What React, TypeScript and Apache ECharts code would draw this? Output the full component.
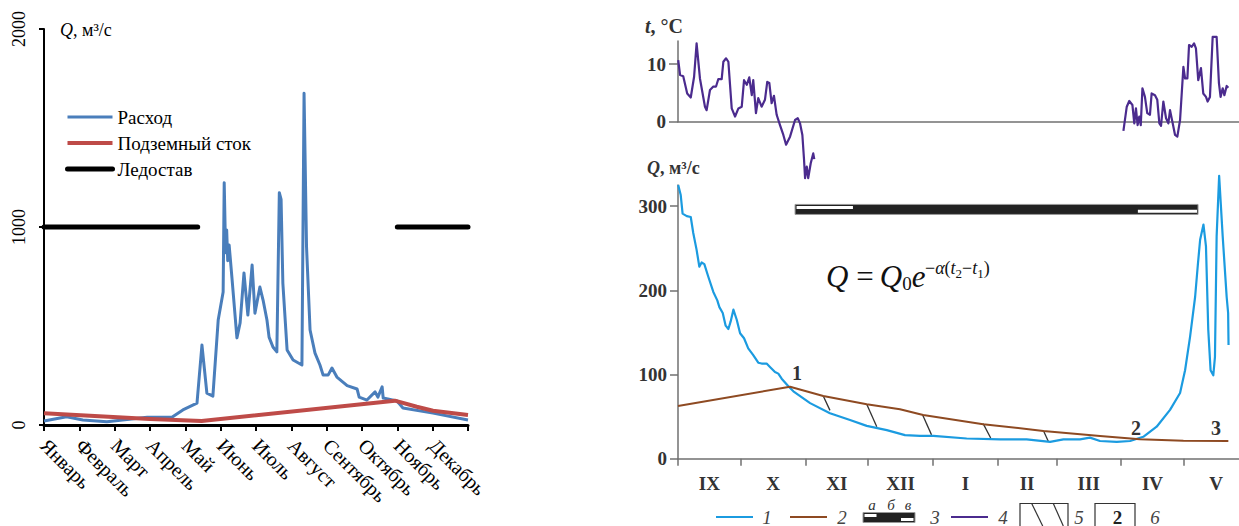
import React, { useEffect, useRef } from 'react';
import * as echarts from 'echarts';

const SERIF = "'Liberation Serif', 'Times New Roman', Times, serif";

// ---------- Left chart data (x in months from 1 January, y in m3/s) ----------
const MONTHS = ['Январь', 'Февраль', 'Март', 'Апрель', 'Май', 'Июнь', 'Июль', 'Август', 'Сентябрь', 'Октябрь', 'Ноябрь', 'Декабрь'];
const FLOW_LEFT: number[][] = [
  [0, 20], [0.64, 42], [1.1, 25], [1.78, 17], [2.92, 39], [3.62, 39], [3.93, 76], [4.33, 110], [4.47, 404], [4.61, 161],
  [4.78, 146], [4.93, 530], [5.07, 672], [5.1, 1224], [5.14, 870], [5.17, 985], [5.2, 830], [5.24, 909], [5.32, 742],
  [5.46, 440], [5.55, 515], [5.66, 768], [5.77, 555], [5.89, 808], [5.97, 565], [6.11, 697], [6.2, 631], [6.31, 530],
  [6.37, 444], [6.48, 394], [6.59, 369], [6.66, 1173], [6.71, 1140], [6.76, 717], [6.88, 379], [7.05, 328], [7.3, 303],
  [7.36, 1676], [7.43, 900], [7.53, 480], [7.67, 363], [7.81, 303], [7.9, 252], [8.04, 252], [8.15, 288], [8.29, 242],
  [8.58, 199], [8.86, 182], [8.92, 141], [9.14, 126], [9.37, 167], [9.45, 141], [9.57, 193], [9.6, 136], [9.99, 121],
  [10.16, 86], [11.01, 60], [12, 25],
];
const GROUND_LEFT: number[][] = [[0, 59], [3, 30], [4.46, 20], [9.93, 123], [10.55, 92], [11.01, 72], [12, 50]];
const ICE_LEFT_A: number[][] = [[0, 1000], [4.35, 1000]];
const ICE_LEFT_B: number[][] = [[10.0, 1000], [12, 1000]];
const LEFT_Y_TICKS = [0, 1000, 2000];

// ---------- Right chart data (x in days from 1 September) ----------
const ROMAN = ['IX', 'X', 'XI', 'XII', 'I', 'II', 'III', 'IV', 'V'];
const MONTH_START_DAYS = [0, 30, 61, 91, 122, 153, 181, 212, 242];
const MONTH_MID_DAYS = [15, 45.5, 76, 106.5, 137.5, 167, 196.5, 227, 257.5];
const T_TICKS = [0, 10];
const Q_TICKS = [0, 100, 200, 300];

const TEMP_AUTUMN: number[][] = [
  [0.1, 10.7], [1.0, 8.1], [2.5, 7.9], [4.4, 4.9], [6.1, 4.2], [7.7, 7.8], [8.9, 13.6], [10.5, 7.5], [12.9, 2.6], [13.7, 2.0],
  [15.3, 5.5], [16.9, 6.1], [18.2, 6.1], [19.3, 7.4], [20.9, 7.4], [21.7, 10.4], [23.0, 11.0], [24.1, 10.4], [25.7, 2.3],
  [27.3, 0.9], [28.9, 2.3], [30.5, 2.6], [31.6, 7.2], [32.9, 6.4], [34.1, 7.7], [35.3, 4.6], [36.0, 7.2], [37.3, 1.5],
  [38.4, 4.1], [40.0, 2.6], [41.6, 3.8], [42.7, 6.9], [43.7, 6.7], [44.8, 3.2], [45.9, 4.5], [47.2, 1.2], [48.8, -0.6],
  [50.4, -2.3], [51.7, -4.0], [53.6, -2.6], [56.0, 0.3], [57.3, 0.6], [58.4, -0.3], [59.5, -2.3], [60.3, -6.6], [60.8, -9.8],
  [61.6, -7.8], [62.3, -9.8], [63.5, -7.2], [64.7, -5.5], [65.2, -6.5],
];
const TEMP_SPRING: number[][] = [
  [213.1, -1.6], [214.7, 2.6], [215.9, 3.6], [217.4, 2.9], [218.3, -0.3], [219.1, 2.3], [219.9, -0.6], [220.7, 0.9],
  [221.4, -0.6], [222.2, 5.8], [223.4, 4.3], [224.5, 1.5], [225.8, 1.2], [226.6, 4.9], [228.2, 4.6], [229.3, 3.8],
  [230.3, -0.3], [231.1, -0.7], [232.2, 3.5], [233.5, 0.6], [234.6, -0.3], [235.4, 2.0], [236.7, -0.3], [237.8, -2.3],
  [238.9, -2.6], [240.2, 0.3], [241.8, 9.5], [242.6, 7.5], [243.7, 7.5], [244.5, 13.3], [245.8, 13.0], [246.9, 13.6],
  [247.8, 12.7], [248.9, 7.2], [250.2, 9.3], [251.3, 4.9], [252.6, 4.3], [253.4, 3.5], [254.5, 4.3], [255.8, 14.7],
  [257.7, 14.7], [258.8, 6.7], [259.6, 4.3], [260.6, 5.8], [261.4, 4.6], [262.5, 6.2], [263.3, 5.9],
];
const FLOW_RIGHT: number[][] = [
  [0.1, 325], [1.3, 313], [2.2, 291], [4.2, 288], [6.1, 287], [7.3, 268], [8.9, 248], [10.2, 228], [11.3, 233], [12.6, 231],
  [14.5, 216], [16.9, 198], [18.8, 188], [19.8, 180], [21.4, 173], [22.8, 158], [24.1, 154], [25.2, 163], [26.5, 177],
  [28.1, 165], [29.7, 149], [31.6, 143], [33.6, 131], [36.0, 123], [38.4, 114], [40.0, 113], [42.4, 113], [44.0, 109],
  [46.4, 103], [48.0, 101], [49.6, 95], [52.8, 86], [55.2, 80], [63.2, 66], [72.7, 54], [82.3, 46], [90.3, 39], [99.9, 34],
  [108.6, 28], [115.8, 27], [122.2, 27], [138.1, 24], [154.1, 23], [166.8, 23], [178.0, 20], [184.4, 23], [192.3, 23],
  [197.1, 25], [201.9, 21], [209.9, 20], [216.3, 21], [222.6, 26], [229.0, 38], [235.4, 58], [240.2, 78], [242.6, 105],
  [245.0, 145], [247.4, 192], [248.7, 230], [249.8, 260], [251.4, 278], [252.6, 252], [253.7, 153], [254.8, 105],
  [256.1, 99], [256.9, 121], [257.7, 264], [258.9, 336], [260.6, 264], [262.5, 192], [263.2, 173], [263.4, 135],
];
const GROUND_RIGHT: number[][] = [
  [0, 62.6], [53.6, 85.5], [69.5, 74.5], [90.3, 64.6], [106.2, 58.7], [117.3, 52], [146, 41], [174.8, 33], [201.9, 27],
  [221, 23], [241.8, 21.4], [263.3, 21],
];
const HATCHES: number[][][] = [
  [[69.5, 74.5], [72.7, 57.4]],
  [[90.3, 64.6], [95.1, 38.0]],
  [[117.0, 52.1], [121.3, 28.3]],
  [[146.0, 41.6], [149.6, 24.6]],
  [[174.8, 33.4], [177.2, 20.3]],
];
// ice regime: [start day, end day, phase] (b = ice cover, a = autumn ice, c = spring ice)
const ICE_PHASES: (number | string)[][] = [[56, 248.8, 'b'], [56, 83.7, 'a'], [219.3, 248.3, 'c']];
const ICE_LEVEL = 296;
// characteristic points labels: [text, day, Q]
const POINT_LABELS: (number | string)[][] = [['1', 56.9, 101.8], ['2', 219.1, 36.5], ['3', 257.4, 36.5]];

const BLUE_L = '#4a7ebb';
const RED_L = '#be4b48';
const BLUE_R = '#1b9be0';
const BROWN = '#8e4a22';
const PURPLE = '#4b2b8e';
const AXIS_R = '#707070';

function buildOption(): any {
  const boldLabel = { fontFamily: SERIF, fontWeight: 'bold', fontSize: 19, color: '#333' };
  const gx = (d: number) => 678 + (d * 561) / 268.4;
  const gy = (q: number) => 458.7 - q * 0.842;
  const legendNum = (text: string, x: number) => ({
    type: 'text', x, y: 517,
    style: { text, fill: '#444', fontFamily: SERIF, fontStyle: 'italic', fontSize: 19, align: 'center', verticalAlign: 'middle' },
  });
  const smallLetter = (text: string, x: number) => ({
    type: 'text', x, y: 505,
    style: { text, fill: '#333', fontFamily: SERIF, fontStyle: 'italic', fontSize: 15, align: 'center', verticalAlign: 'middle' },
  });
  return {
    animation: false,
    backgroundColor: '#fff',
    legend: {
      data: ['Расход', 'Подземный сток', 'Ледостав'],
      orient: 'vertical',
      left: 60,
      top: 102,
      padding: 5,
      itemWidth: 45,
      itemHeight: 1,
      itemGap: 6,
      lineStyle: { width: 'inherit' },
      textStyle: { fontFamily: SERIF, fontSize: 19, color: '#000', lineHeight: 20 },
    },
    grid: [
      { left: 44, top: 29, width: 424, height: 396 },
      { left: 678, top: 41, width: 561, height: 80.7 },
      { left: 678, top: 185, width: 561, height: 273.7 },
    ],
    xAxis: [
      {
        type: 'value', gridIndex: 0, min: 0, max: 12, interval: 1,
        axisLine: { lineStyle: { color: '#000', width: 3 } },
        axisTick: { show: true, length: 6, lineStyle: { color: '#000', width: 2 } },
        axisLabel: {
          rotate: -45, margin: 17, fontFamily: SERIF, fontSize: 20, color: '#000',
          formatter: (v: number) => MONTHS[Math.round(v)] ?? '',
        },
        splitLine: { show: false },
      },
      {
        type: 'value', gridIndex: 1, min: 0, max: 268.4,
        axisLine: { lineStyle: { color: AXIS_R, width: 1.5 } },
        axisTick: { show: false }, axisLabel: { show: false }, splitLine: { show: false },
      },
      {
        type: 'value', gridIndex: 2, min: 0, max: 268.4,
        axisLine: { lineStyle: { color: AXIS_R, width: 1.5 } },
        axisTick: { show: true, length: 7, customValues: MONTH_START_DAYS, lineStyle: { color: AXIS_R, width: 1.5 } },
        axisLabel: {
          ...boldLabel, margin: 15, customValues: MONTH_MID_DAYS,
          formatter: (v: number) => ROMAN[MONTH_MID_DAYS.indexOf(v)] ?? '',
        },
        splitLine: { show: false },
      },
    ],
    yAxis: [
      {
        type: 'value', gridIndex: 0, min: 0, max: 2000, interval: 1000,
        axisLine: { show: true, lineStyle: { color: '#000', width: 2 } },
        axisTick: { show: true, length: 5, lineStyle: { color: '#000', width: 2 } },
        axisLabel: {
          rotate: 90, margin: 16, fontFamily: SERIF, fontSize: 18, color: '#000', customValues: LEFT_Y_TICKS,
          formatter: (v: number) => String(v),
        },
        splitLine: { show: false },
      },
      {
        type: 'value', gridIndex: 1, min: 0, max: 14,
        axisLine: { show: true, lineStyle: { color: AXIS_R, width: 1.5 } },
        axisTick: { show: true, length: 9, customValues: T_TICKS, lineStyle: { color: AXIS_R, width: 1.5 } },
        axisLabel: { ...boldLabel, margin: 12, customValues: T_TICKS },
        splitLine: { show: false },
      },
      {
        type: 'value', gridIndex: 2, min: 0, max: 325,
        axisLine: { show: true, lineStyle: { color: AXIS_R, width: 1.5 } },
        axisTick: { show: true, length: 8, customValues: Q_TICKS, lineStyle: { color: AXIS_R, width: 1.5 } },
        axisLabel: { ...boldLabel, margin: 11, customValues: Q_TICKS },
        splitLine: { show: false },
      },
    ],
    series: [
      {
        name: 'Ледостав', type: 'line', xAxisIndex: 0, yAxisIndex: 0, data: ICE_LEFT_A, symbol: 'none',
        color: '#000', lineStyle: { color: '#000', width: 5, cap: 'round' }, z: 3,
      },
      {
        name: 'Ледостав', type: 'line', xAxisIndex: 0, yAxisIndex: 0, data: ICE_LEFT_B, symbol: 'none',
        color: '#000', lineStyle: { color: '#000', width: 5, cap: 'round' }, z: 3,
      },
      {
        name: 'Расход', type: 'line', xAxisIndex: 0, yAxisIndex: 0, data: FLOW_LEFT, symbol: 'none',
        color: BLUE_L, lineStyle: { color: BLUE_L, width: 3, join: 'round' }, z: 4,
      },
      {
        name: 'Подземный сток', type: 'line', xAxisIndex: 0, yAxisIndex: 0, data: GROUND_LEFT, symbol: 'none',
        color: RED_L, lineStyle: { color: RED_L, width: 4, join: 'round' }, z: 5,
      },
      {
        name: 't1', type: 'line', xAxisIndex: 1, yAxisIndex: 1, data: TEMP_AUTUMN, symbol: 'none', clip: false,
        lineStyle: { color: PURPLE, width: 2.2, join: 'round' },
      },
      {
        name: 't2', type: 'line', xAxisIndex: 1, yAxisIndex: 1, data: TEMP_SPRING, symbol: 'none', clip: false,
        lineStyle: { color: PURPLE, width: 2.2, join: 'round' },
      },
      {
        name: 'hatch', type: 'lines', coordinateSystem: 'cartesian2d', xAxisIndex: 2, yAxisIndex: 2,
        data: HATCHES.map((c) => ({ coords: c })), lineStyle: { color: '#333', width: 1.3, opacity: 1 }, z: 2,
      },
      {
        name: 'Q', type: 'line', xAxisIndex: 2, yAxisIndex: 2, data: FLOW_RIGHT, symbol: 'none', clip: false,
        lineStyle: { color: BLUE_R, width: 2.2, join: 'round' }, z: 3,
      },
      {
        name: 'ground', type: 'line', xAxisIndex: 2, yAxisIndex: 2, data: GROUND_RIGHT, symbol: 'none', clip: false,
        lineStyle: { color: BROWN, width: 2, join: 'round' }, z: 4,
      },
      {
        name: 'ice', type: 'custom', xAxisIndex: 2, yAxisIndex: 2, clip: false, data: ICE_PHASES, z: 5,
        renderItem: (p: any, api: any) => {
          const a = api.coord([api.value(0), ICE_LEVEL]);
          const b = api.coord([api.value(1), ICE_LEVEL]);
          const ph = ICE_PHASES[p.dataIndex][2];
          if (ph === 'b') {
            return { type: 'rect', shape: { x: a[0], y: a[1] - 5, width: b[0] - a[0], height: 10 },
              style: { fill: '#222', stroke: '#999', lineWidth: 1 } };
          }
          const top = ph === 'a' ? a[1] - 3.3 : a[1] + 0.3;
          return { type: 'rect', shape: { x: a[0] + 1.5, y: top, width: b[0] - a[0] - 1.5, height: 3 },
            style: { fill: '#fff' } };
        },
      },
    ],
    graphic: [
      {
        type: 'text', left: 60, top: 21,
        style: {
          text: '{i|Q}, м³/с', fill: '#000', fontFamily: SERIF, fontSize: 18,
          rich: { i: { fontStyle: 'italic', fontFamily: SERIF, fontSize: 18 } },
        },
      },
      {
        type: 'text', x: 645, y: 26,
        style: {
          text: '{i|t}, °C', fill: '#333', fontFamily: SERIF, fontSize: 20, fontWeight: 'bold', verticalAlign: 'middle',
          rich: { i: { fontStyle: 'italic', fontWeight: 'bold', fontFamily: SERIF, fontSize: 20 } },
        },
      },
      {
        type: 'text', x: 647, y: 168,
        style: {
          text: '{i|Q}, м³/с', fill: '#333', fontFamily: SERIF, fontSize: 18, fontWeight: 'bold', verticalAlign: 'middle',
          rich: { i: { fontStyle: 'italic', fontWeight: 'bold', fontFamily: SERIF, fontSize: 18 } },
        },
      },
      ...POINT_LABELS.map((p) => ({
        type: 'text',
        x: gx(p[1] as number),
        y: gy(p[2] as number),
        style: { text: p[0], fill: '#333', fontFamily: SERIF, fontSize: 20, fontWeight: 'bold', align: 'center', verticalAlign: 'middle' },
      })),
      // formula: main part
      {
        type: 'text', x: 826, y: 276,
        style: {
          text: '{i|Q}{m| =\u2009}{i|Q}{sub|0}{i|e}',
          fill: '#111', verticalAlign: 'middle',
          rich: {
            i: { fontFamily: SERIF, fontStyle: 'italic', fontSize: 31, lineHeight: 34 },
            m: { fontFamily: SERIF, fontSize: 31, lineHeight: 34 },
            sub: { fontFamily: SERIF, fontSize: 19, lineHeight: 20, verticalAlign: 'bottom' },
          },
        },
      },
      // formula: exponent
      {
        type: 'text', x: 925, y: 268,
        style: {
          text: '{s|−}{si|α}{s|(}{si|t}{ss|2}{s|−}{si|t}{ss|1}{s|)}',
          fill: '#111', verticalAlign: 'middle',
          rich: {
            s: { fontFamily: SERIF, fontSize: 18, lineHeight: 24 },
            si: { fontFamily: SERIF, fontStyle: 'italic', fontSize: 18, lineHeight: 24 },
            ss: { fontFamily: SERIF, fontSize: 13, lineHeight: 14, verticalAlign: 'bottom' },
          },
        },
      },
      // bottom legend of the right chart
      { type: 'line', shape: { x1: 716, y1: 517, x2: 753, y2: 517 }, style: { stroke: BLUE_R, lineWidth: 2.2 } },
      legendNum('1', 767),
      { type: 'line', shape: { x1: 790, y1: 517, x2: 827, y2: 517 }, style: { stroke: BROWN, lineWidth: 2.2 } },
      legendNum('2', 842),
      smallLetter('а', 872),
      smallLetter('б', 891),
      smallLetter('в', 908),
      { type: 'rect', shape: { x: 863, y: 512.5, width: 52, height: 10 }, style: { fill: '#222', stroke: '#999', lineWidth: 1 } },
      { type: 'rect', shape: { x: 864.5, y: 514, width: 12, height: 3 }, style: { fill: '#fff' } },
      { type: 'rect', shape: { x: 901, y: 518, width: 12.5, height: 3 }, style: { fill: '#fff' } },
      legendNum('3', 935),
      { type: 'line', shape: { x1: 951, y1: 517, x2: 988, y2: 517 }, style: { stroke: PURPLE, lineWidth: 2.2 } },
      legendNum('4', 1003),
      { type: 'rect', shape: { x: 1020, y: 503.5, width: 48, height: 30 }, style: { fill: 'none', stroke: '#333', lineWidth: 1.2 } },
      { type: 'line', shape: { x1: 1031.7, y1: 503.5, x2: 1042.7, y2: 526 }, style: { stroke: '#333', lineWidth: 1.2 } },
      { type: 'line', shape: { x1: 1053.3, y1: 503.5, x2: 1063.3, y2: 526 }, style: { stroke: '#333', lineWidth: 1.2 } },
      legendNum('5', 1079),
      { type: 'rect', shape: { x: 1095, y: 503.5, width: 40, height: 30 }, style: { fill: 'none', stroke: '#333', lineWidth: 1.2 } },
      { type: 'text', x: 1117.5, y: 517, style: { text: '2', fill: '#222', fontFamily: SERIF, fontWeight: 'bold', fontSize: 19, align: 'center', verticalAlign: 'middle' } },
      legendNum('6', 1155),
    ],
  };
}

export default function App() {
  const ref = useRef<HTMLDivElement>(null);
  useEffect(() => {
    if (!ref.current) return;
    const chart = echarts.init(ref.current, null, { renderer: 'svg' });
    chart.setOption(buildOption());
    return () => chart.dispose();
  }, []);
  return (
    <div
      ref={ref}
      style={{ position: 'fixed', left: 0, top: 0, width: 1239, height: 526, background: '#fff' }}
    />
  );
}
